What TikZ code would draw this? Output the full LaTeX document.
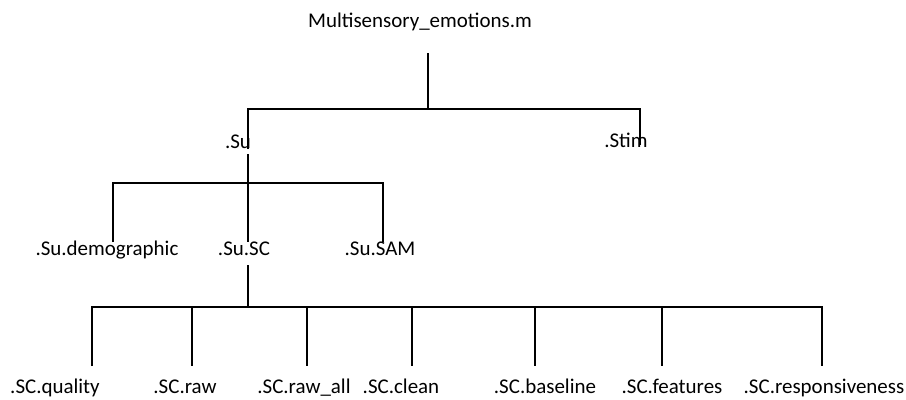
\documentclass[tikz,border=0pt]{standalone}
\usepackage{fontspec}
\setmainfont{Carlito}
\usetikzlibrary{calc}

\begin{document}
\begin{tikzpicture}[
    x=0.025cm, y=-0.025cm,
    every node/.style={font=\fontsize{14.9}{17}\selectfont},
    lbl/.style={inner sep=1pt, anchor=base, text height=0.8em, text depth=0.25em},
    conn/.style={line width=1.4pt}
]
    \useasboundingbox (0,0) rectangle (906,400);

    \node[lbl] (title)  at (420,28)   {Multisensory\_emotions.m};
    \node[lbl] (su)     at (238,149)  {.Su};
    \node[lbl] (stim)   at (626,148)  {.Stim};
    \node[lbl] (demo)   at (107,255)  {.Su.demographic};
    \node[lbl] (susc)   at (244,255)  {.Su.SC};
    \node[lbl] (sam)    at (380,255)  {.Su.SAM};
    \node[lbl] (qual)   at (55,393)   {.SC.quality};
    \node[lbl] (raw)    at (185,393)  {.SC.raw};
    \node[lbl] (rawall) at (304,393)  {.SC.raw\_all};
    \node[lbl] (clean)  at (401,393)  {.SC.clean};
    \node[lbl] (basel)  at (545,393)  {.SC.baseline};
    \node[lbl] (feat)   at (672,393)  {.SC.features};
    \node[lbl] (resp)   at (824,393)  {.SC.responsiveness};

    \coordinate (rootJ) at (428,109);
    \coordinate (B-su)   at (248,109);
    \coordinate (B-stim) at (640,109);
    \coordinate (B-demo) at (113,183);
    \coordinate (B-sam)  at (383,183);
    \coordinate (scJ)    at (248,307);
    \foreach \n/\x in {qual/92, raw/192, rawall/307, clean/412, basel/535, feat/662, resp/822}
        \coordinate (B-\n) at (\x,307);

    \draw[conn] ($(title.south -| rootJ)+(0,20)$) -- (rootJ);
    \draw[conn] (su.base -| B-su) -- (B-su) -- (B-stim) -- (stim.mid -| B-stim);

    \draw[conn] (su.south -| B-su) -- (susc.north -| B-su);
    \draw[conn] (demo.north -| B-demo) -- (B-demo) -- (B-sam) -- (sam.north -| B-sam);

    \draw[conn] ($(susc.south -| scJ)+(0,5)$) -- (scJ);
    \draw[conn] ($(qual.north -| B-qual)+(0,-14)$) -- (B-qual) -- (B-resp) -- ($(resp.north -| B-resp)+(0,-14)$);
    \foreach \n in {raw, rawall, clean, basel, feat}
        \draw[conn] (B-\n) -- ($(\n.north -| B-\n)+(0,-14)$);
\end{tikzpicture}
\end{document}
